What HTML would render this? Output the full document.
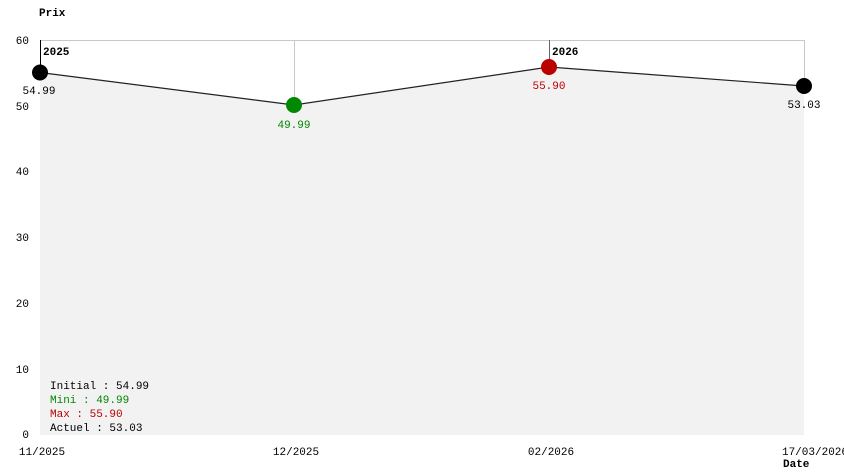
<!DOCTYPE html>
<html><head><meta charset="utf-8"><style>
html,body{margin:0;padding:0;background:#fff;}
svg{display:block;font-family:"Liberation Mono",monospace;font-size:11px;}
</style></head><body>
<svg width="844" height="474" viewBox="0 0 844 474" xmlns="http://www.w3.org/2000/svg">
<polygon points="40,72.5 294,105 549,67 804,86 804,435 40,435" fill="#f2f2f2"/>
<line x1="40" y1="40.5" x2="804" y2="40.5" stroke="#c8c8c8"/>
<line x1="294.5" y1="40" x2="294.5" y2="105" stroke="#c8c8c8"/>
<line x1="804.5" y1="40" x2="804.5" y2="86" stroke="#c8c8c8"/>
<line x1="40.5" y1="40" x2="40.5" y2="72" stroke="#000"/>
<line x1="549.5" y1="40" x2="549.5" y2="67" stroke="#666"/>
<polyline points="40,72.5 294,105 549,67 804,86" fill="none" stroke="#222" stroke-width="1.2"/>
<circle cx="40" cy="72.5" r="8" fill="#000"/>
<circle cx="294" cy="105" r="8" fill="#008800"/>
<circle cx="549" cy="67" r="8" fill="#bb0000"/>
<circle cx="804" cy="86" r="8" fill="#000"/>
<text x="43" y="55" font-weight="bold">2025</text>
<text x="552" y="55" font-weight="bold">2026</text>
<text x="39" y="94" text-anchor="middle">54.99</text>
<text x="294" y="128" text-anchor="middle" fill="#008800">49.99</text>
<text x="549" y="89" text-anchor="middle" fill="#bb0000">55.90</text>
<text x="804" y="108" text-anchor="middle">53.03</text>
<text x="39" y="16" font-weight="bold">Prix</text>
<g text-anchor="end">
<text x="29" y="44">60</text>
<text x="29" y="110">50</text>
<text x="29" y="175">40</text>
<text x="29" y="241">30</text>
<text x="29" y="307">20</text>
<text x="29" y="373">10</text>
<text x="29" y="438">0</text>
</g>
<text x="50" y="389">Initial : 54.99</text>
<text x="50" y="403" fill="#008800">Mini : 49.99</text>
<text x="50" y="417" fill="#bb0000">Max : 55.90</text>
<text x="50" y="431">Actuel : 53.03</text>
<text x="42" y="455" text-anchor="middle">11/2025</text>
<text x="296" y="455" text-anchor="middle">12/2025</text>
<text x="551" y="455" text-anchor="middle">02/2026</text>
<text x="815" y="455" text-anchor="middle">17/03/2026</text>
<text x="783" y="467" font-weight="bold">Date</text>
</svg>
</body></html>
